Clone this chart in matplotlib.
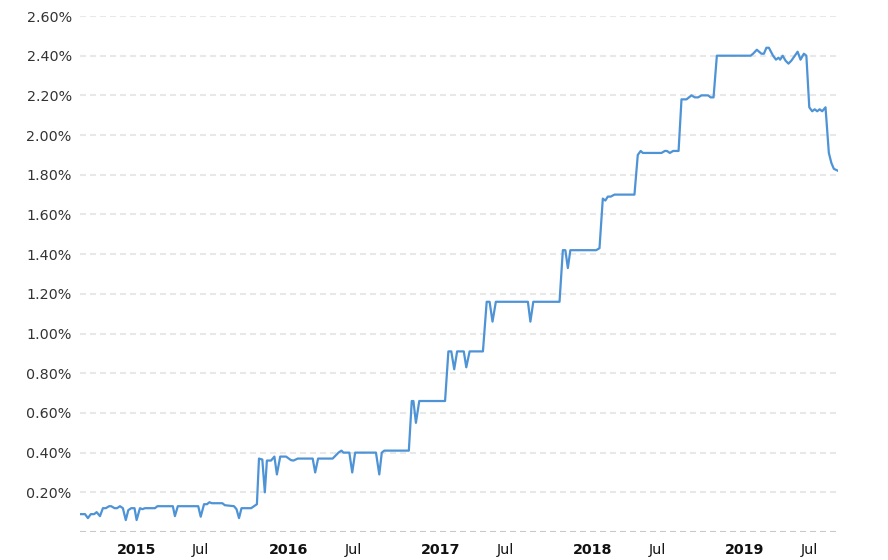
import pandas as pd
import matplotlib
matplotlib.use("Agg")
from matplotlib import pyplot as plt
from matplotlib import transforms
from matplotlib.ticker import FixedLocator, FuncFormatter

plt.rcParams['font.family'] = ['DejaVu Sans']

# weekly-ish readings, in percent
dates = [
    "2014-10-14", "2014-10-26", "2014-11-02", "2014-11-09", "2014-11-17", "2014-11-23",
    "2014-12-01", "2014-12-08", "2014-12-15", "2014-12-23", "2014-12-28", "2015-01-05",
    "2015-01-11", "2015-01-18", "2015-01-25", "2015-02-01", "2015-02-07", "2015-02-14",
    "2015-02-22", "2015-02-27", "2015-03-07", "2015-03-13", "2015-03-19", "2015-04-12",
    "2015-04-18", "2015-05-25", "2015-05-30", "2015-06-06", "2015-07-25", "2015-07-31",
    "2015-08-08", "2015-08-15", "2015-08-21", "2015-08-27", "2015-09-21", "2015-09-27",
    "2015-10-19", "2015-10-25", "2015-10-31", "2015-11-06", "2015-11-29", "2015-12-06",
    "2015-12-13", "2015-12-18", "2015-12-26", "2016-01-01", "2016-01-06", "2016-01-16",
    "2016-01-24", "2016-01-30", "2016-02-07", "2016-02-21", "2016-03-04", "2016-03-10",
    "2016-03-20", "2016-04-25", "2016-05-01", "2016-05-08", "2016-06-12", "2016-06-18",
    "2016-06-26", "2016-07-03", "2016-07-08", "2016-07-22", "2016-07-29", "2016-08-05",
    "2016-09-24", "2016-10-02", "2016-10-08", "2016-10-14", "2016-12-12", "2016-12-19",
    "2016-12-23", "2016-12-29", "2017-01-06", "2017-03-09", "2017-03-17", "2017-03-24",
    "2017-03-31", "2017-04-07", "2017-04-23", "2017-04-29", "2017-05-07", "2017-06-08",
    "2017-06-17", "2017-06-24", "2017-07-01", "2017-07-09", "2017-09-24", "2017-09-30",
    "2017-10-07", "2017-12-09", "2017-12-17", "2017-12-23", "2017-12-29", "2018-01-04",
    "2018-03-07", "2018-03-15", "2018-03-23", "2018-03-29", "2018-04-04", "2018-04-11",
    "2018-04-20", "2018-06-07", "2018-06-15", "2018-06-22", "2018-06-27", "2018-08-11",
    "2018-08-19", "2018-08-24", "2018-08-31", "2018-09-08", "2018-09-21", "2018-09-28",
    "2018-10-10", "2018-10-22", "2018-10-30", "2018-11-07", "2018-11-15", "2018-12-01",
    "2018-12-07", "2018-12-14", "2018-12-22", "2019-03-13", "2019-03-19", "2019-03-28",
    "2019-04-08", "2019-04-14", "2019-04-20", "2019-04-26", "2019-05-06", "2019-05-13",
    "2019-05-19", "2019-05-23", "2019-05-29", "2019-06-05", "2019-06-12", "2019-06-19",
    "2019-07-04", "2019-07-11", "2019-07-19", "2019-07-25", "2019-08-01", "2019-08-08",
    "2019-08-14", "2019-08-20", "2019-08-26", "2019-09-01", "2019-09-09", "2019-09-17",
    "2019-09-23", "2019-09-29", "2019-10-09",
]
rates = [
    0.09, 0.09, 0.07, 0.09, 0.09, 0.10,
    0.08, 0.12, 0.12, 0.13, 0.13, 0.12,
    0.12, 0.13, 0.12, 0.06, 0.11, 0.12,
    0.12, 0.06, 0.12, 0.115, 0.12, 0.12,
    0.13, 0.13, 0.08, 0.13, 0.13, 0.077,
    0.14, 0.14, 0.15, 0.145, 0.145, 0.135,
    0.13, 0.115, 0.07, 0.12, 0.12, 0.13,
    0.14, 0.37, 0.365, 0.20, 0.36, 0.36,
    0.38, 0.29, 0.38, 0.38, 0.362, 0.36,
    0.37, 0.37, 0.30, 0.37, 0.37, 0.383,
    0.40, 0.41, 0.40, 0.40, 0.30, 0.40,
    0.40, 0.29, 0.40, 0.41, 0.41, 0.66,
    0.66, 0.55, 0.66, 0.66, 0.91, 0.91,
    0.82, 0.91, 0.91, 0.83, 0.91, 0.91,
    1.16, 1.16, 1.06, 1.16, 1.16, 1.06,
    1.16, 1.16, 1.42, 1.42, 1.33, 1.42,
    1.42, 1.43, 1.68, 1.67, 1.69, 1.69,
    1.70, 1.70, 1.90, 1.92, 1.91, 1.91,
    1.92, 1.92, 1.91, 1.92, 1.92, 2.18,
    2.18, 2.20, 2.19, 2.19, 2.20, 2.20,
    2.19, 2.19, 2.40, 2.40, 2.41, 2.43,
    2.41, 2.41, 2.44, 2.44, 2.40, 2.38,
    2.39, 2.38, 2.40, 2.375, 2.36, 2.375,
    2.42, 2.38, 2.41, 2.40, 2.14, 2.12,
    2.13, 2.12, 2.13, 2.12, 2.14, 1.91,
    1.86, 1.83, 1.82,
]

tick_dates = ["2015-01-01", "2015-07-01", "2016-01-01", "2016-07-01", "2017-01-01",
              "2017-07-01", "2018-01-01", "2018-07-01", "2019-01-01", "2019-07-01"]
tick_labels = ["2015", "Jul", "2016", "Jul", "2017", "Jul", "2018", "Jul", "2019", "Jul"]
y_ticks = [0.2, 0.4, 0.6, 0.8, 1.0, 1.2, 1.4, 1.6, 1.8, 2.0, 2.2, 2.4, 2.6]

x = pd.to_datetime(dates)
xt = pd.to_datetime(tick_dates)

fig = plt.figure(figsize=(8.88, 5.6), dpi=100)
ax = fig.add_axes([80 / 888, 1 - 532 / 560, 758 / 888, 516 / 560])

dash = (0, (2.9, 1.9))
for v in y_ticks:
    ax.axhline(v, color="#e8e8e8", lw=1.5, ls=dash, zorder=0)
ax.axhline(0, color="#c8c8c8", lw=1.5, ls=dash, zorder=0)

ax.plot(x, rates, color="#4d93d6", lw=1.6, solid_joinstyle="round", zorder=3)

ax.set_xlim(x[0], x[-1])
ax.set_ylim(0, 2.6)

ax.yaxis.set_major_locator(FixedLocator(y_ticks))
ax.yaxis.set_major_formatter(FuncFormatter(lambda v, p: f"{v:.2f}%"))
ax.tick_params(axis="y", length=0, pad=6, labelsize=10.3, labelcolor="#333333")

ax.set_xticks(xt)
ax.set_xticklabels(tick_labels)
ax.tick_params(axis="x", length=0, pad=8, labelsize=10.3, labelcolor="#111111")
shift = transforms.ScaledTranslation(4 / 100, 0, fig.dpi_scale_trans)
for lbl, name in zip(ax.get_xticklabels(), tick_labels):
    lbl.set_horizontalalignment("left")
    lbl.set_transform(lbl.get_transform() + shift)
    if name != "Jul":
        lbl.set_fontweight("bold")

for s in ax.spines.values():
    s.set_visible(False)

fig.savefig("out.png", dpi=100)
